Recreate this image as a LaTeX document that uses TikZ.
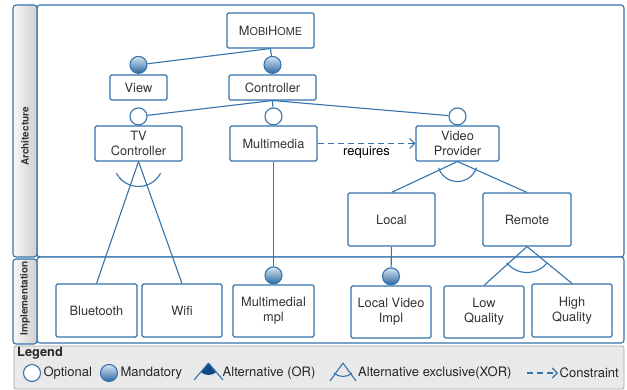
\documentclass[tikz,border=0pt]{standalone}
\usepackage{fontspec}
\setmainfont{TeX Gyre Heros}
\usetikzlibrary{positioning,arrows.meta}

\definecolor{lineblue}{HTML}{3573AD}
\definecolor{textgray}{HTML}{333333}
\definecolor{balltop}{HTML}{D8E6F2}
\definecolor{ballbot}{HTML}{2C67A0}
\definecolor{orfill}{HTML}{0E4A88}
\definecolor{legendfill}{HTML}{E9E9E9}

\tikzset{
    feature/.style={draw=lineblue, line width=1.1pt, rounded corners=1.5pt, fill=white,
        text=textgray, align=center, inner sep=1pt, font=\fontsize{12.8}{14.8}\selectfont},
    optional/.style={circle, draw=lineblue, line width=1.1pt, fill=white,
        minimum size=17pt, inner sep=0pt},
    mandatory/.style={circle, draw=lineblue, line width=1.1pt, top color=balltop,
        bottom color=ballbot, minimum size=17pt, inner sep=0pt},
    link/.style={draw=lineblue, line width=1.1pt},
    constraint/.style={link, dash pattern=on 6pt off 4pt,
        -{Straight Barb[length=5pt, width=10pt]}},
    lane/.style={draw=lineblue, line width=1.1pt, rounded corners=3pt},
    lanebar/.style={lane, left color=gray!6, right color=gray!38},
    lanetitle/.style={rotate=90, text=textgray, font=\bfseries\fontsize{10}{12}\selectfont},
    legendtext/.style={text=black!85, font=\fontsize{13}{15}\selectfont}
}

\newcommand{\smallcap}[1]{{\fontsize{10.8}{12}\selectfont #1}}

\begin{document}
\begin{tikzpicture}[x=1pt, y=1pt]
    \useasboundingbox (0,0) rectangle (627,390);

    % lanes
    \draw[lane, fill=white] (37,133) rectangle (624,385);
    \draw[lane, fill=white] (37,47) rectangle (624,133);
    \draw[lanebar] (13,133) rectangle (37,385);
    \draw[lanebar] (13,46) rectangle (37,131);
    \node[lanetitle] (archtitle) at (25,253.5) {Architecture};
    \node[lanetitle] (impltitle) at (25,91.5) {Implementation};

    % legend box
    \draw[draw=gray!70, line width=0.8pt, fill=legendfill, rounded corners=2pt] (14,1) rectangle (624,44);

    % architecture features
    \node[feature, minimum width=87pt, minimum height=35pt] (mobi) at (270.5,359.5)
        {M\smallcap{OBI}H\smallcap{OME}};
    \node[feature, minimum width=57pt, minimum height=25pt] (view) at (138.5,302.5) {View};
    \node[feature, minimum width=87pt, minimum height=25pt] (ctrl) at (272.5,302.5) {Controller};
    \node[feature, minimum width=87pt, minimum height=35pt] (tvc) at (138.5,246.5) {TV\\Controller};
    \node[feature, minimum width=87pt, minimum height=35pt] (mm) at (273.5,246.5) {Multimedia};
    \node[feature, minimum width=83pt, minimum height=35pt] (vp) at (457.5,246.5) {Video\\Provider};
    \node[feature, minimum width=87pt, minimum height=53pt] (local) at (391.5,170.5) {Local};
    \node[feature, minimum width=88pt, minimum height=53pt] (remote) at (527,170.5) {Remote};

    % implementation features
    \node[feature, minimum width=81pt, minimum height=53pt] (bt) at (96.5,79.5) {Bluetooth};
    \node[feature, minimum width=80pt, minimum height=53pt] (wifi) at (182,79.5) {Wifi};
    \node[feature, minimum width=81pt, minimum height=52pt] (mmi) at (273.5,79) {Multimedial\\mpl};
    \node[feature, minimum width=80pt, minimum height=52pt] (lvi) at (391,78) {Local Video\\Impl};
    \node[feature, minimum width=80pt, minimum height=52pt] (lowq) at (484,78) {Low\\Quality};
    \node[feature, minimum width=80pt, minimum height=53pt] (highq) at (572,79.5) {High\\Quality};

    % mandatory / optional markers
    \node[mandatory, above=0.5pt of view] (mview) {};
    \node[mandatory, above=0.5pt of ctrl] (mctrl) {};
    \node[optional, above=0pt of tvc] (otvc) {};
    \node[optional, above=0pt of mm] (omm) {};
    \node[optional, above=0pt of vp] (ovp) {};
    \node[mandatory, above=0pt of mmi] (mmmi) {};
    \node[mandatory, above=0pt of lvi] (mlvi) {};

    % tree links
    \draw[link] (mobi.south) -- (mview);
    \draw[link] (mobi.south) -- (mctrl);
    \draw[link] (ctrl.south) -- (otvc);
    \draw[link] (ctrl.south) -- (omm);
    \draw[link] (ctrl.south) -- (ovp);
    \draw[link] (mm.south) -- (mmmi);
    \draw[link] (local.south) -- (mlvi);

    % xor groups
    \draw[link] (tvc.south) -- (bt.north);
    \draw[link] (tvc.south) -- (wifi.north);
    \draw[link] ([shift={(208:25pt)}]tvc.south) arc[start angle=208, end angle=332, radius=25pt];
    \draw[link] (vp.south) -- (local.north);
    \draw[link] (vp.south) -- (remote.north);
    \draw[link] ([shift={(198:20pt)}]vp.south) arc[start angle=198, end angle=342, radius=20pt];
    \draw[link] (remote.south) -- (lowq.north);
    \draw[link] (remote.south) -- (highq.north);
    \draw[link] ([shift={(219:26pt)}]remote.south) arc[start angle=219, end angle=321, radius=26pt];

    % constraint
    \draw[constraint] (mm.east) -- node[below=-1.5pt, legendtext, text=black] {requires} (vp.west);

    % legend
    \node[legendtext, font=\bfseries\fontsize{12.8}{14.8}\selectfont, anchor=west, inner sep=0pt]
        (legtitle) at (17,37) {Legend};
    \node[optional] (lopt) at (32,17) {};
    \node[legendtext, right=-1pt of lopt] {Optional};
    \node[mandatory] (lmand) at (109,17) {};
    \node[legendtext, right=-1pt of lmand] {Mandatory};

    \coordinate (orapex) at (208.5,27);
    \fill[orfill] (orapex) -- ++(229.5:12pt) arc[start angle=229.5, end angle=310.5, radius=12pt] -- cycle;
    \draw[link] (orapex) -- ++(229.5:22.3pt);
    \draw[link] (orapex) -- ++(310.5:22.3pt);
    \node[legendtext, anchor=west, inner sep=0pt] at (222.5,17) {Alternative (OR)};

    \coordinate (xorapex) at (343,27);
    \draw[link] (xorapex) -- ++(234.2:22.2pt);
    \draw[link] (xorapex) -- ++(305.8:22.2pt);
    \draw[link] ([shift={(228:13.5pt)}]xorapex) arc[start angle=228, end angle=312, radius=13.5pt];
    \node[legendtext, anchor=west, inner sep=0pt] at (358,17) {Alternative exclusive(XOR)};

    \coordinate (cstart) at (527,17);
    \coordinate (cend) at (558,17);
    \draw[constraint] (cstart) -- (cend);
    \node[legendtext, anchor=west, inner sep=0pt] at (559.5,17) {Constraint};
\end{tikzpicture}
\end{document}
